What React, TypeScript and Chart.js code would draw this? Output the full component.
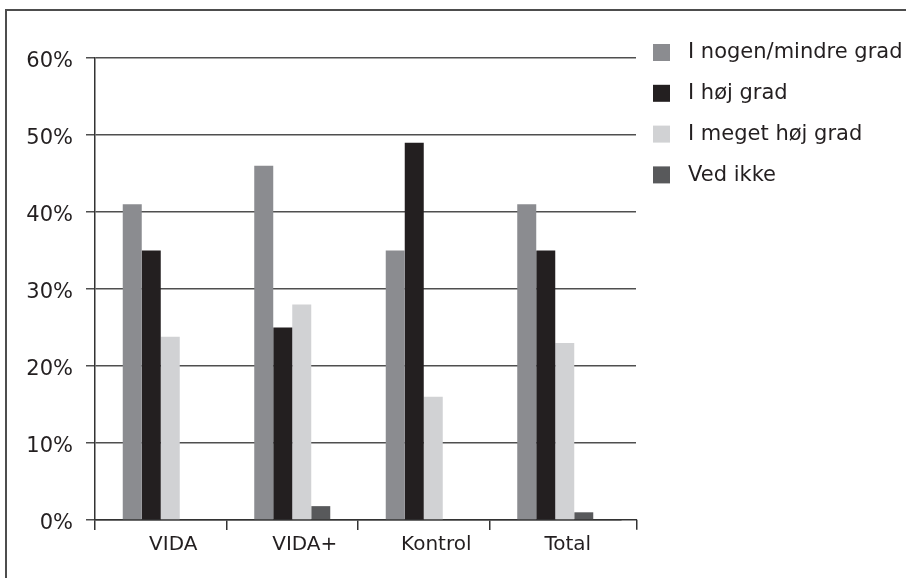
import React, { useEffect, useRef } from 'react';
import { Chart, registerables } from 'chart.js';

Chart.register(...registerables);

const categories = ['VIDA', 'VIDA+', 'Kontrol', 'Total'];
const seriesLabels = ['I nogen/mindre grad', 'I høj grad', 'I meget høj grad', 'Ved ikke'];
const nogenMindre = [41, 46, 35, 41];
const hoej = [35, 25, 49, 35];
const megetHoej = [23.8, 28, 16, 23];
const vedIkke = [0, 1.8, 0, 1];
const yMin = 0;
const yMax = 60;
const yStep = 10;

const seriesColors = ['#8b8c90', '#231f20', '#d1d2d4', '#58595b'];
const FONT = 'DejaVu Sans';
const TEXT = '#231f20';
const GRID = '#4f4f4f';
const AXIS = '#333333';

const align = (chart: any, pixel: number, width: number) => {
  const dpr = chart.currentDevicePixelRatio || 1;
  const half = width / 2;
  return Math.round((pixel - half) * dpr) / dpr + half;
};

const framePlugin = {
  id: 'frame',
  beforeDraw(chart: any) {
    const ctx = chart.ctx;
    ctx.save();
    ctx.strokeStyle = '#4d4d4d';
    ctx.lineWidth = 2;
    ctx.beginPath();
    ctx.moveTo(6, 700);
    ctx.lineTo(6, 10);
    ctx.lineTo(1000, 10);
    ctx.stroke();
    ctx.restore();
  },
};

const extendPlugin = {
  id: 'extendLines',
  afterDraw(chart: any) {
    const ctx = chart.ctx;
    const ys = chart.scales.y;
    const area = chart.chartArea;
    const gridEnd = 636;
    ctx.save();
    ctx.lineWidth = 1.5;
    ctx.strokeStyle = GRID;
    ys.ticks.forEach((t: any) => {
      if (t.value === yMin) return;
      const py = align(chart, ys.getPixelForValue(t.value), 1.5);
      ctx.beginPath();
      ctx.moveTo(area.right, py);
      ctx.lineTo(gridEnd, py);
      ctx.stroke();
    });
    ctx.strokeStyle = AXIS;
    const by = align(chart, area.bottom, 1.5);
    ctx.beginPath();
    ctx.moveTo(area.right, by);
    ctx.lineTo(637, by);
    ctx.stroke();
    const tx = align(chart, 637, 1.5);
    ctx.beginPath();
    ctx.moveTo(tx, by);
    ctx.lineTo(tx, by + 10);
    ctx.stroke();
    ctx.restore();
  },
};

const legendPlugin = {
  id: 'sideLegend',
  afterDraw(chart: any) {
    const ctx = chart.ctx;
    ctx.save();
    ctx.font = `21px "${FONT}"`;
    ctx.textBaseline = 'middle';
    ctx.textAlign = 'left';
    chart.data.datasets.forEach((ds: any, i: number) => {
      const top = 44 + i * 40.8;
      ctx.fillStyle = ds.backgroundColor;
      ctx.fillRect(653, top, 17, 17);
      ctx.fillStyle = TEXT;
      ctx.fillText(ds.label, 688, top + 9);
    });
    ctx.restore();
  },
};

export default function App() {
  const ref = useRef<HTMLCanvasElement | null>(null);

  useEffect(() => {
    if (!ref.current) return;
    const data = [nogenMindre, hoej, megetHoej, vedIkke];
    const chart = new Chart(ref.current, {
      type: 'bar',
      data: {
        labels: categories,
        datasets: seriesLabels.map((label, i) => ({
          label,
          data: data[i],
          backgroundColor: seriesColors[i],
          borderWidth: 0,
          categoryPercentage: 0.578,
          barPercentage: 1,
        })),
      },
      options: {
        animation: false,
        responsive: false,
        maintainAspectRatio: false,
        layout: { padding: { left: 0, right: 285, top: 58, bottom: 18 } },
        plugins: {
          legend: { display: false },
          tooltip: { enabled: false },
          title: { display: false },
        },
        scales: {
          x: {
            offset: true,
            afterFit: (s: any) => { s.height = 40; },
            grid: {
              display: true,
              drawOnChartArea: false,
              drawTicks: true,
              tickLength: 10,
              lineWidth: 1.5,
              color: (c: any) => (c.type === 'tick' ? AXIS : 'rgba(0,0,0,0)'),
            },
            border: { display: true, color: AXIS, width: 1.5 },
            ticks: {
              color: TEXT,
              font: { family: FONT, size: 20 },
              padding: 3,
              labelOffset: 12.5,
              maxRotation: 0,
            },
          },
          y: {
            min: yMin,
            max: yMax,
            afterFit: (s: any) => { s.width = 95; },
            grid: {
              color: GRID,
              lineWidth: 1.5,
              tickLength: 9,
            },
            border: { display: true, color: AXIS, width: 1.5 },
            ticks: {
              stepSize: yStep,
              color: TEXT,
              font: { family: FONT, size: 21 },
              padding: 13,
              labelOffset: 4,
              callback: (v: any) => `${v}%`,
            },
          },
        },
      },
      plugins: [framePlugin, extendPlugin, legendPlugin],
    });
    return () => chart.destroy();
  }, []);

  return (
    <div style={{ position: 'absolute', left: 0, top: 0, width: 906, height: 578, background: '#ffffff', overflow: 'hidden' }}>
      <canvas ref={ref} width={906} height={578} style={{ width: 906, height: 578, display: 'block' }} />
    </div>
  );
}
